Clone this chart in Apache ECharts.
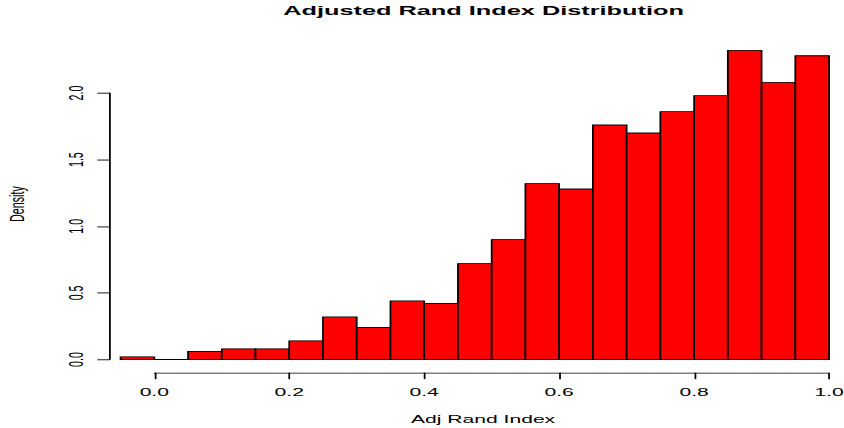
<!DOCTYPE html>
<html>
<head>
<meta charset="utf-8">
<title>Adjusted Rand Index Distribution</title>
<script src="https://cdn.jsdelivr.net/npm/echarts@6/dist/echarts.min.js"></script>
<style>
  html, body { margin: 0; padding: 0; background: #fff; overflow: hidden; }
  #stage { width: 844px; height: 428px; overflow: hidden; }
  /* The plot is laid out on a 480x480 square and stretched to fill the window */
  #chart { width: 480px; height: 480px; transform: scale(1.758333, 0.891667); transform-origin: 0 0; }
</style>
</head>
<body>
<div id="stage"><div id="chart"></div></div>
<script>
// Histogram bin edges (width 0.05)
const breaks = [-0.05, 0.00, 0.05, 0.10, 0.15, 0.20, 0.25, 0.30, 0.35, 0.40, 0.45,
                0.50, 0.55, 0.60, 0.65, 0.70, 0.75, 0.80, 0.85, 0.90, 0.95, 1.00];
// Density of each bin
const density = [0.02, 0.00, 0.06, 0.08, 0.08, 0.14, 0.32, 0.24, 0.44, 0.42, 0.72,
                 0.90, 1.32, 1.28, 1.76, 1.70, 1.86, 1.98, 2.32, 2.08, 2.28];
const xTicks = [0.0, 0.2, 0.4, 0.6, 0.8, 1.0];
const yTicks = [0.0, 0.5, 1.0, 1.5, 2.0];

const titleText = 'Adjusted Rand Index Distribution';
const xName = 'Adj Rand Index';
const yName = 'Density';

const font = '"Liberation Sans", Arial, Helvetica, sans-serif';

const bins = density.map((d, i) => [breaks[i], breaks[i + 1], d]);

const chart = echarts.init(document.getElementById('chart'), null, { renderer: 'svg' });

chart.setOption({
  animation: false,
  backgroundColor: '#ffffff',
  textStyle: { fontFamily: font },
  title: {
    text: titleText,
    left: 275,
    top: 5,
    padding: 0,
    textAlign: 'center',
    textStyle: { fontFamily: font, fontSize: 14.4, fontWeight: 'bold', color: '#000' }
  },
  grid: {
    left: 87.75,
    right: 8.5,
    top: 104.3,
    bottom: 76.8,
    containLabel: false,
    outerBoundsMode: 'none'
  },
  xAxis: {
    type: 'value',
    min: xTicks[0],
    max: xTicks[xTicks.length - 1],
    interval: 0.2,
    offset: 14.8,
    name: xName,
    nameLocation: 'middle',
    nameGap: 46,
    nameTextStyle: { fontFamily: font, fontSize: 12, color: '#000', padding: [0, 9.8, 0, 0] },
    axisLine: { show: true, onZero: false, lineStyle: { color: '#000', width: 1 } },
    axisTick: { show: true, inside: false, length: 7.2, lineStyle: { color: '#000', width: 1 } },
    axisLabel: {
      margin: 16,
      fontFamily: font,
      fontSize: 12,
      color: '#000',
      formatter: v => v.toFixed(1)
    },
    splitLine: { show: false }
  },
  yAxis: {
    type: 'value',
    min: yTicks[0],
    max: yTicks[yTicks.length - 1],
    interval: 0.5,
    offset: 25.2,
    name: yName,
    nameLocation: 'middle',
    nameRotate: 90,
    nameGap: 46.6,
    nameTextStyle: { fontFamily: font, fontSize: 12, color: '#000', padding: [0, 0, 0, 49.8] },
    axisLine: { show: true, onZero: false, lineStyle: { color: '#000', width: 1 } },
    axisTick: { show: true, inside: false, length: 7.2, lineStyle: { color: '#000', width: 1 } },
    axisLabel: {
      rotate: 90,
      margin: 13.4,
      fontFamily: font,
      fontSize: 12,
      color: '#000',
      formatter: v => v.toFixed(1)
    },
    splitLine: { show: false }
  },
  series: [{
    type: 'custom',
    clip: false,
    data: bins,
    encode: { x: [0, 1], y: 2 },
    renderItem: function (params, api) {
      const lo = api.value(0), hi = api.value(1), d = api.value(2);
      const topLeft = api.coord([lo, d]);
      const bottomRight = api.coord([hi, 0]);
      return {
        type: 'rect',
        shape: {
          x: topLeft[0],
          y: topLeft[1],
          width: bottomRight[0] - topLeft[0],
          height: bottomRight[1] - topLeft[1]
        },
        style: { fill: '#ff0000', stroke: '#000', lineWidth: 1 }
      };
    }
  }]
});
</script>
</body>
</html>
